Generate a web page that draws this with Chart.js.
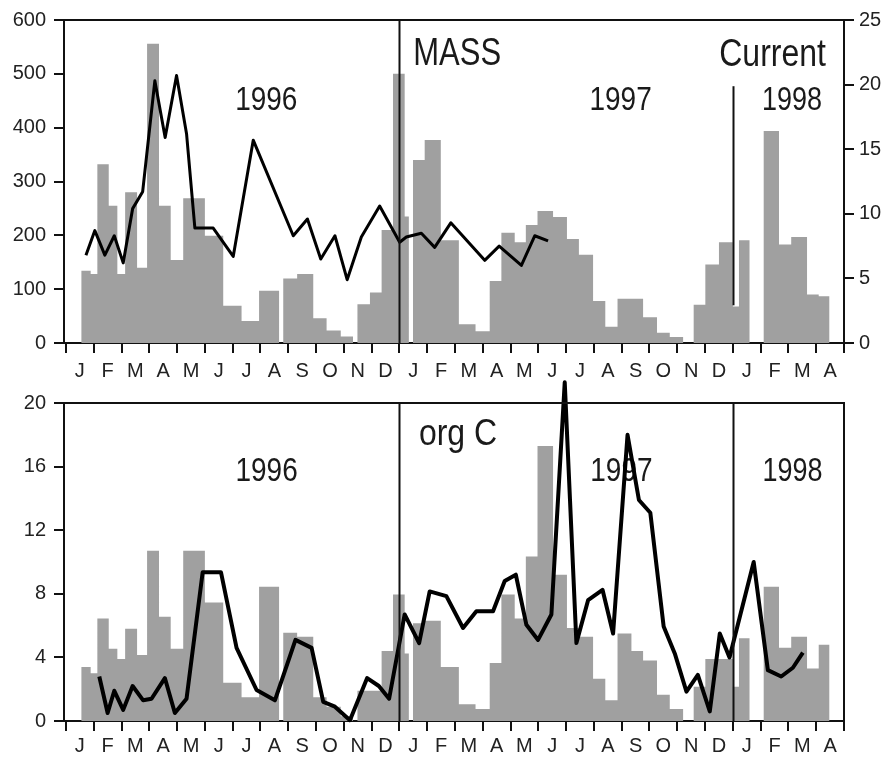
<!DOCTYPE html>
<html>
<head>
<meta charset="utf-8">
<script src="https://cdn.jsdelivr.net/npm/chart.js@4.4.1/dist/chart.umd.min.js"></script>
<style>
  html, body { margin: 0; padding: 0; background: #fff; }
  #wrap { position: relative; width: 886px; height: 758px; }
  canvas { position: absolute; left: 0; }
  #massChart { top: 0; }
  #orgcChart { top: 375px; }
</style>
</head>
<body>
<div id="wrap">
  <canvas id="massChart" width="886" height="392"></canvas>
  <canvas id="orgcChart" width="886" height="383"></canvas>
</div>
<script>
// time axis is in months counted from 1 Jan 1996
const monthLetters = ['J','F','M','A','M','J','J','A','S','O','N','D',
                      'J','F','M','A','M','J','J','A','S','O','N','D',
                      'J','F','M','A'];

// sampling intervals (start of each cup, last entry = end of last cup); 0 value = no sample
const sampleEdges = [0.55, 0.89, 1.13, 1.54, 1.85, 2.13, 2.56, 2.92, 3.35, 3.77,
                     4.22, 5.00, 5.66, 6.32, 6.95, 7.67, 7.82, 8.32, 8.90, 9.38,
                     9.89, 10.33, 10.49, 10.94, 11.36, 11.77, 12.19, 12.34, 12.49, 12.91,
                     13.49, 14.14, 14.74, 15.25, 15.67, 16.15, 16.55, 16.97, 17.53, 18.03,
                     18.46, 18.97, 19.41, 19.85, 20.35, 20.77, 21.27, 21.73, 22.21, 22.59,
                     23.01, 23.50, 24.00, 24.22, 24.60, 25.11, 25.66, 26.10, 26.67, 27.09,
                     27.48];

const massFlux = [134, 128, 332, 255, 128, 280, 140, 556, 255, 154,
                  269, 199, 69, 41, 97, 0, 120, 128, 46, 23,
                  12, 0, 72, 94, 210, 500, 235, 0, 340, 377,
                  191, 35, 22, 115, 205, 187, 219, 245, 234, 193,
                  164, 78, 30, 82, 82, 48, 19, 11, 0, 71,
                  146, 187, 68, 191, 0, 394, 183, 197, 90, 87];

const orgCFlux = [3.4, 3.0, 6.45, 4.55, 3.9, 5.8, 4.15, 10.7, 6.55, 4.55,
                  10.7, 7.45, 2.4, 1.5, 8.45, 0, 5.55, 5.3, 1.5, 0.9,
                  0.3, 0, 1.9, 1.9, 4.4, 7.95, 4.25, 0, 6.15, 6.3,
                  3.4, 1.05, 0.75, 3.65, 7.95, 6.45, 10.35, 17.3, 9.2, 5.85,
                  5.3, 2.65, 1.3, 5.5, 4.4, 3.8, 1.65, 0.75, 0, 2.15,
                  3.9, 3.9, 2.15, 5.2, 0, 8.45, 4.6, 5.3, 3.3, 4.8];

// current speed (right axis, top panel)
const currentMonths = [0.72, 1.04, 1.40, 1.74, 2.06, 2.40, 2.76, 3.20, 3.57, 3.98,
                       4.34, 4.64, 5.30, 6.02, 6.74, 8.18, 8.69, 9.17, 9.68, 10.12,
                       10.63, 11.29, 12.01, 12.25, 12.79, 13.27, 13.85, 15.07, 15.59, 16.39,
                       16.87, 17.35];
const currentSpeed = [6.8, 8.7, 6.8, 8.3, 6.2, 10.4, 11.7, 20.3, 15.9, 20.7,
                      16.2, 8.9, 8.9, 6.7, 15.7, 8.3, 9.6, 6.5, 8.3, 4.9,
                      8.2, 10.6, 7.8, 8.2, 8.5, 7.4, 9.3, 6.4, 7.5, 6.0,
                      8.3, 7.9];

// org C line (bottom panel)
const orgCMonths = [1.20, 1.50, 1.74, 2.06, 2.40, 2.78, 3.08, 3.56, 3.92, 4.34,
                    4.92, 5.58, 6.14, 6.86, 7.52, 8.26, 8.84, 9.26, 9.68, 10.22,
                    10.84, 11.26, 11.63, 12.19, 12.71, 13.09, 13.69, 14.29, 14.77, 15.37,
                    15.79, 16.19, 16.57, 16.99, 17.47, 17.95, 18.37, 18.79, 19.31, 19.69,
                    20.21, 20.62, 21.03, 21.51, 21.91, 22.33, 22.74, 23.17, 23.53, 23.88,
                    24.75, 25.26, 25.74, 26.16, 26.52];
const orgCLine = [2.8, 0.5, 1.9, 0.7, 2.2, 1.3, 1.4, 2.7, 0.5, 1.4,
                  9.35, 9.35, 4.6, 1.95, 1.3, 5.1, 4.6, 1.2, 0.9, 0.05,
                  2.7, 2.2, 1.4, 6.7, 4.9, 8.15, 7.85, 5.85, 6.9, 6.9,
                  8.8, 9.2, 6.05, 5.1, 6.7, 21.3, 4.9, 7.6, 8.25, 5.5,
                  18.0, 13.9, 13.1, 5.95, 4.25, 1.85, 2.9, 0.6, 5.5, 4.0,
                  10.0, 3.2, 2.8, 3.35, 4.3];

const barGray = '#a0a0a0';
const ink = '#111';
const fontFamily = '"Liberation Sans", Arial, Helvetica, sans-serif';
const tickFont = { family: fontFamily, size: 20 };

function stepPoints(values) {
    const pts = values.map((v, i) => ({ x: sampleEdges[i], y: v }));
    pts.push({ x: sampleEdges[values.length], y: 0 });
    return pts;
}

function linePoints(months, values) {
    return months.map((m, i) => ({ x: m, y: values[i] }));
}

// draws panel texts, year dividers and the frame
const panelDecor = {
    id: 'panelDecor',
    beforeDatasetsDraw(chart, args, opts) {
        const { ctx } = chart;
        const x = chart.scales.x;
        const y = chart.scales[opts.yAxis];
        ctx.save();
        ctx.fillStyle = '#1a1a1a';
        ctx.textAlign = 'center';
        ctx.textBaseline = 'alphabetic';
        opts.labels.forEach(l => {
            ctx.save();
            ctx.translate(x.getPixelForValue(l.x), y.getPixelForValue(l.y));
            ctx.scale(1, l.stretch);
            ctx.font = l.size + 'px ' + fontFamily;
            ctx.fillText(l.text, 0, 0);
            ctx.restore();
        });
        ctx.restore();
    },
    afterDatasetsDraw(chart, args, opts) {
        const { ctx, chartArea } = chart;
        const x = chart.scales.x;
        const y = chart.scales[opts.yAxis];
        ctx.save();
        ctx.strokeStyle = ink;
        ctx.lineWidth = 2;
        opts.dividers.forEach(d => {
            const px = Math.round(x.getPixelForValue(d.x)) + 0.5;
            ctx.beginPath();
            ctx.moveTo(px, y.getPixelForValue(d.from));
            ctx.lineTo(px, y.getPixelForValue(d.to));
            ctx.stroke();
        });
        ctx.beginPath();
        ctx.moveTo(chartArea.left, chartArea.top);
        ctx.lineTo(chartArea.right + 1, chartArea.top);
        if (opts.rightFrame) {
            ctx.moveTo(chartArea.right, chartArea.top);
            ctx.lineTo(chartArea.right, chartArea.bottom);
        }
        ctx.stroke();
        ctx.restore();
    }
};

function monthAxis(tickPad, axisHeight) {
    return {
        type: 'linear',
        min: -0.07,
        max: 28,
        afterBuildTicks: s => { s.ticks = monthLetters.concat(['']).map((_, i) => ({ value: i })); },
        afterFit: s => { s.height = axisHeight; },
        border: { color: ink, width: 2 },
        grid: { drawOnChartArea: false, color: ink, lineWidth: 2, tickLength: 10 },
        ticks: {
            autoSkip: false, maxRotation: 0, padding: tickPad, labelOffset: 13.9,
            color: '#222', font: tickFont,
            callback: v => monthLetters[v] || ''
        }
    };
}

function valueAxis(position, min, max, step, width, pad) {
    return {
        position: position,
        min: min,
        max: max,
        afterFit: s => { s.width = width; },
        border: { color: ink, width: 2 },
        grid: { drawOnChartArea: false, color: ink, lineWidth: 2, tickLength: 10 },
        ticks: { stepSize: step, padding: pad, color: '#222', font: tickFont }
    };
}

const common = {
    responsive: false,
    animation: false,
    devicePixelRatio: 1,
    events: [],
    plugins: { legend: { display: false }, tooltip: { enabled: false } }
};

new Chart(document.getElementById('massChart'), {
    type: 'line',
    data: {
        datasets: [{
            label: 'Current',
            data: linePoints(currentMonths, currentSpeed),
            yAxisID: 'y1',
            borderColor: '#000',
            borderWidth: 3,
            borderJoinStyle: 'round',
            pointRadius: 0,
            tension: 0,
            fill: false,
            order: 0
        }, {
            label: 'MASS',
            data: stepPoints(massFlux),
            yAxisID: 'y',
            stepped: true,
            borderColor: 'transparent',
            backgroundColor: barGray,
            fill: 'origin',
            pointRadius: 0,
            order: 1
        }]
    },
    options: {
        ...common,
        layout: { padding: { top: 20 } },
        scales: {
            x: monthAxis(6, 49),
            y: valueAxis('left', 0, 600, 100, 64, 8),
            y1: valueAxis('right', 0, 25, 5, 42, 5)
        },
        plugins: {
            ...common.plugins,
            panelDecor: {
                yAxis: 'y',
                rightFrame: false,
                labels: [
                    { text: '1996', x: 7.21, y: 433, size: 28, stretch: 1.2 },
                    { text: 'MASS', x: 14.08, y: 516, size: 31, stretch: 1.28 },
                    { text: '1997', x: 19.96, y: 432, size: 28, stretch: 1.2 },
                    { text: 'Current', x: 25.43, y: 514, size: 32, stretch: 1.2 },
                    { text: '1998', x: 26.13, y: 432, size: 27, stretch: 1.22 }
                ],
                dividers: [
                    { x: 12, from: 0, to: 600 },
                    { x: 24, from: 70, to: 477 }
                ]
            }
        }
    },
    plugins: [panelDecor]
});

new Chart(document.getElementById('orgcChart'), {
    type: 'line',
    data: {
        datasets: [{
            label: 'org C',
            data: linePoints(orgCMonths, orgCLine),
            yAxisID: 'y',
            borderColor: '#000',
            borderWidth: 4,
            borderJoinStyle: 'round',
            pointRadius: 0,
            tension: 0,
            fill: false,
            clip: false,
            order: 0
        }, {
            label: 'org C flux',
            data: stepPoints(orgCFlux),
            yAxisID: 'y',
            stepped: true,
            borderColor: 'transparent',
            backgroundColor: barGray,
            fill: 'origin',
            pointRadius: 0,
            order: 1
        }]
    },
    options: {
        ...common,
        layout: { padding: { top: 28, right: 42 } },
        scales: {
            x: monthAxis(3, 37),
            y: valueAxis('left', 0, 20, 4, 64, 8)
        },
        plugins: {
            ...common.plugins,
            panelDecor: {
                yAxis: 'y',
                rightFrame: true,
                labels: [
                    { text: '1996', x: 7.22, y: 15.1, size: 28, stretch: 1.2 },
                    { text: 'org C', x: 14.11, y: 17.35, size: 32, stretch: 1.15 },
                    { text: '1997', x: 19.99, y: 15.1, size: 28, stretch: 1.2 },
                    { text: '1998', x: 26.15, y: 15.1, size: 27, stretch: 1.22 }
                ],
                dividers: [
                    { x: 12, from: 0, to: 20 },
                    { x: 24, from: 0, to: 20 }
                ]
            }
        }
    },
    plugins: [panelDecor]
});
</script>
</body>
</html>
